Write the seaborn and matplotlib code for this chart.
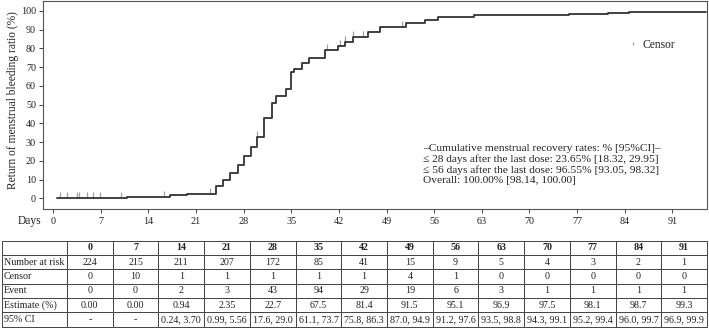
import numpy as np
import pandas as pd
import matplotlib
matplotlib.use('Agg')
import matplotlib.pyplot as plt
from matplotlib.path import Path
import seaborn as sns

# ==============================================================================
# DATA
# ==============================================================================
# cumulative recovery curve: day of each step and level after the step (%)
step_days = [0.5, 10.8, 17.2, 19.6, 23.9, 25.0, 26.0, 27.1, 28.0, 29.0, 29.9,
             31.0, 32.1, 32.8, 34.2, 35.0, 35.4, 36.6, 37.6, 40.0, 41.9, 42.9,
             44.0, 46.2, 48.0, 51.8, 54.6, 56.6, 61.9, 75.8, 81.5, 84.6, 96.0]
step_pct = [0, 0.94, 1.88, 2.35, 6.8, 9.8, 13.5, 18.0, 22.7, 27.5, 32.8,
            42.8, 50.6, 54.7, 58.2, 67.5, 69.0, 72.0, 74.6, 79.0, 81.4, 83.5,
            86.2, 88.8, 91.5, 93.6, 95.1, 96.9, 97.5, 98.1, 98.7, 99.3, 99.3]
censor_days = [1.0, 2.0, 3.5, 3.8, 5.0, 5.9, 6.9, 9.9, 16.3, 23.1, 30.0,
               40.2, 42.2, 42.9, 44.1, 45.6, 51.2]

x_ticks = [0, 7, 14, 21, 28, 35, 42, 49, 56, 63, 70, 77, 84, 91]
y_ticks = list(range(0, 101, 10))

# risk table
row_names = ['Number at risk', 'Censor', 'Event', 'Estimate (%)', '95% CI']
at_risk = [224, 215, 211, 207, 172, 85, 41, 15, 9, 5, 4, 3, 2, 1]
censor_n = [0, 10, 1, 1, 1, 1, 1, 4, 1, 0, 0, 0, 0, 0]
event_n = [0, 0, 2, 3, 43, 94, 29, 19, 6, 3, 1, 1, 1, 1]
estimate = ['0.00', '0.00', '0.94', '2.35', '22.7', '67.5', '81.4', '91.5',
            '95.1', '96.9', '97.5', '98.1', '98.7', '99.3']
ci_95 = ['-', '-', '0.24, 3.70', '0.99, 5.56', '17.6, 29.0', '61.1, 73.7',
         '75.8, 86.3', '87.0, 94.9', '91.2, 97.6', '93.5, 98.8', '94.3, 99.1',
         '95.2, 99.4', '96.0, 99.7', '96.9, 99.9']

note_lines = ['\u2013Cumulative menstrual recovery rates: % [95%CI]\u2013',
              '\u2264 28 days after the last dose: 23.65% [18.32, 29.95]',
              '\u2264 56 days after the last dose: 96.55% [93.05, 98.32]',
              'Overall: 100.00% [98.14, 100.00]']

# ==============================================================================
# STYLE
# ==============================================================================
sns.set_theme(style='ticks')
plt.rcParams['font.family'] = ['Liberation Serif', 'DejaVu Serif']
plt.rcParams['text.color'] = '#222222'
plt.rcParams['xtick.color'] = '#444444'
plt.rcParams['ytick.color'] = '#444444'
plt.rcParams['xtick.labelcolor'] = '#222222'
plt.rcParams['ytick.labelcolor'] = '#222222'

fig = plt.figure(figsize=(7.09, 3.28), dpi=100)
ax = fig.add_axes([43 / 709, 1 - 209 / 328, 664 / 709, 208 / 328])

# ==============================================================================
# CURVE
# ==============================================================================
curve = pd.DataFrame({'day': step_days, 'pct': step_pct})
sns.lineplot(data=curve, x='day', y='pct', drawstyle='steps-post',
             color='#333333', linewidth=1.3, estimator=None, ax=ax)

# censor marks sit on the curve at the censoring day
idx = np.searchsorted(step_days, censor_days, side='right') - 1
censor_df = pd.DataFrame({'day': censor_days,
                          'pct': np.array(step_pct)[np.clip(idx, 0, None)]})
tick_up = Path([(0, 0), (0, 1)], [Path.MOVETO, Path.LINETO])
sns.scatterplot(data=censor_df, x='day', y='pct', marker=tick_up, s=70,
                edgecolor='#a0a0a0', color='#a0a0a0', linewidth=0.9,
                label='Censor', ax=ax, zorder=1)

ax.set_xlim(-1.5, 96.1)
ax.set_ylim(-5.7, 105.2)
ax.set_xticks(x_ticks)
ax.set_yticks(y_ticks)
ax.tick_params(axis='both', labelsize=7.3, length=3, width=0.7, direction='out')
ax.tick_params(axis='x', pad=3)
ax.tick_params(axis='y', pad=2)
ax.set_xlabel('')
ax.set_ylabel('')
for s in ax.spines.values():
    s.set_visible(True)
    s.set_color('#555555')
    s.set_linewidth(0.8)

ax.text(-0.0196, -0.058, 'Days', transform=ax.transAxes, ha='center',
        va='center', fontsize=8.3)
ax.text(-0.045, 0.524, 'Return of menstrual bleeding ratio (%)',
        transform=ax.transAxes, rotation=90, ha='center', va='center',
        fontsize=8.3)

ax.legend(loc='center left', bbox_to_anchor=(0.864, 0.79), frameon=False,
          fontsize=8.3, handlelength=1.0, handletextpad=0.3, markerscale=0.6)

ax.text(0.573, 0.213, '\n'.join(note_lines), transform=ax.transAxes,
        ha='left', va='center', fontsize=8.2, linespacing=1.15)

# ==============================================================================
# RISK TABLE
# ==============================================================================
tab_ax = fig.add_axes([2 / 709, 1.3 / 328, 705 / 709, 86 / 328])
tab_ax.axis('off')
body = [at_risk, censor_n, event_n, estimate, ci_95]
cell_text = [[name] + [str(v) for v in vals] for name, vals in zip(row_names, body)]
col_labels = [''] + [str(d) for d in x_ticks]
widths = [65] + [45.7] * len(x_ticks)
widths = [w / sum(widths) for w in widths]
table = tab_ax.table(cellText=cell_text, colLabels=col_labels,
                     colWidths=widths, cellLoc='center', bbox=[0, 0, 1, 1])
table.auto_set_font_size(False)
table.set_fontsize(7.2)
for (r, c), cell in table.get_celld().items():
    cell.set_edgecolor('#444444')
    cell.set_linewidth(0.7)
    cell.get_text().set_color('#222222')
    if r == 0:
        cell.get_text().set_fontweight('bold')
    if c == 0:
        cell.PAD = 0.03
        cell.get_text().set_ha('left')
        cell._loc = 'left'

fig.savefig('out.png', dpi=100)
